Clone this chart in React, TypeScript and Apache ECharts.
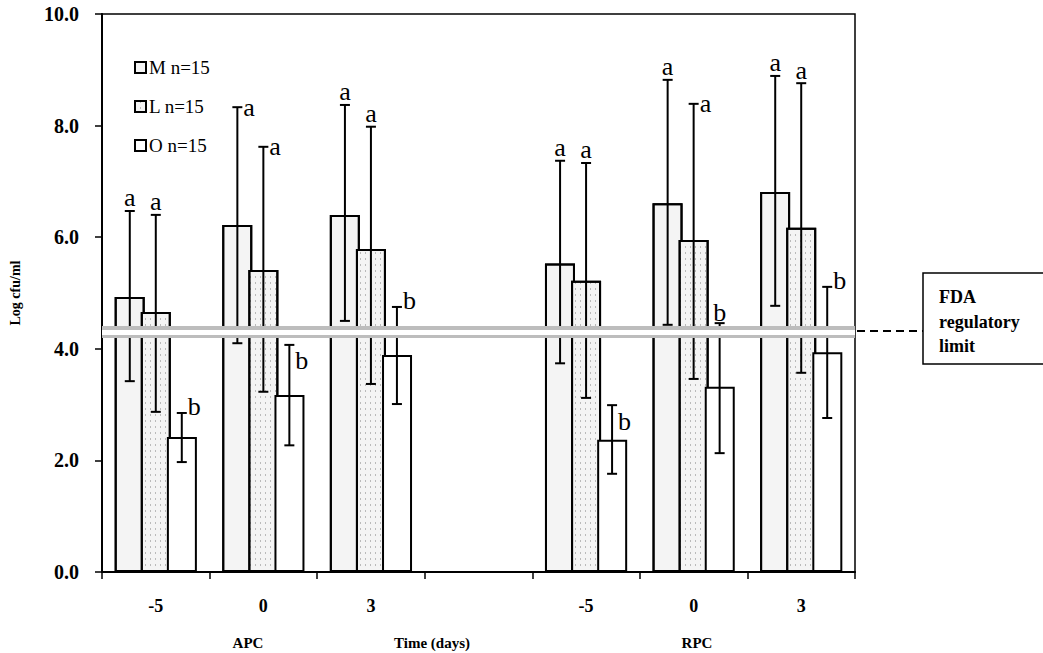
import React, { useEffect, useRef } from "react";
import * as echarts from "echarts";

const categories = ["-5", "0", "3", "", "-5", "0", "3"];
const groupLabels = ["APC", "Time (days)", "RPC"];
const seriesNames = ["M n=15", "L n=15", "O n=15"];

const meanM = [4.93, 6.22, 6.4, null, 5.53, 6.61, 6.81];
const meanL = [4.66, 5.41, 5.79, null, 5.22, 5.95, 6.17];
const meanO = [2.42, 3.17, 3.89, null, 2.37, 3.32, 3.94];

const hiM = [6.47, 8.33, 8.37, null, 7.37, 8.82, 8.89];
const loM = [3.42, 4.1, 4.5, null, 3.74, 4.43, 4.77];
const hiL = [6.4, 7.62, 7.98, null, 7.33, 8.39, 8.76];
const loL = [2.87, 3.23, 3.37, null, 3.12, 3.46, 3.57];
const hiO = [2.85, 4.07, 4.75, null, 2.99, 4.46, 5.11];
const loO = [1.97, 2.27, 3.01, null, 1.76, 2.13, 2.76];

const lettersM = ["a", "a", "a", "", "a", "a", "a"];
const lettersL = ["a", "a", "a", "", "a", "a", "a"];
const lettersO = ["b", "b", "b", "", "b", "b", "b"];
const posM = ["top", "right", "top", "", "top", "top", "top"];
const posL = ["top", "right", "top", "", "top", "right", "top"];
const posO = ["right", "rightLow", "right", "", "rightLow", "top", "right"];

const fdaLimit = 4.3;
const yTicks = { min: 0, max: 10, interval: 2 };

const SERIF = "'Liberation Serif', 'DejaVu Serif', serif";

function errSeries(
  lo: (number | null)[],
  hi: (number | null)[],
  letters: string[],
  pos: string[],
  offset: number,
  extra: any = {}
) {
  const data: any[] = [];
  categories.forEach((_, i) => {
    if (hi[i] != null && lo[i] != null) data.push([i, lo[i], hi[i]]);
  });
  return {
    type: "custom",
    silent: true,
    data,
    z: 3,
    renderItem: (params: any, api: any) => {
      const i = api.value(0);
      const top = api.coord([i, api.value(2)]);
      const bot = api.coord([i, api.value(1)]);
      const x = top[0] + offset;
      const cap = 5;
      const letter = letters[i];
      const p = pos[i];
      const isB = letter === "b";
      let tx = x;
      let ty = top[1];
      let align = "center";
      if (p === "right") {
        tx = x + 6;
        align = "left";
        ty = top[1] + (isB ? -6 : 0);
      } else if (p === "rightLow") {
        tx = x + 6;
        align = "left";
        ty = top[1] + 16;
      } else {
        ty = top[1] - (isB ? 11 : 13);
      }
      const st = { stroke: "#000", lineWidth: 2 };
      return {
        type: "group",
        children: [
          { type: "line", shape: { x1: x, y1: top[1], x2: x, y2: bot[1] }, style: st },
          { type: "line", shape: { x1: x - cap, y1: top[1], x2: x + cap, y2: top[1] }, style: st },
          { type: "line", shape: { x1: x - cap, y1: bot[1], x2: x + cap, y2: bot[1] }, style: st },
          {
            type: "text",
            style: {
              x: tx,
              y: ty,
              text: letter,
              align,
              verticalAlign: "middle",
              fontFamily: SERIF,
              fontSize: 26,
              fill: "#000",
            },
          },
        ],
      };
    },
    ...extra,
  };
}

export default function App() {
  const ref = useRef<HTMLDivElement>(null);
  useEffect(() => {
    if (!ref.current) return;
    const chart = echarts.init(ref.current, null, { renderer: "svg" });
    const barBase = {
      type: "bar",
      barWidth: 30,
      barGap: "-13%",
    };
    const boxText = (text: string, y: number) => ({
      type: "text",
      style: {
        x: 939,
        y,
        text,
        verticalAlign: "middle",
        fontFamily: SERIF,
        fontSize: 18,
        fontWeight: "bold",
        fill: "#000",
      },
    });
    const option: any = {
      animation: false,
      backgroundColor: "#fff",
      textStyle: { fontFamily: SERIF },
      grid: {
        left: 100,
        right: 188,
        top: 14,
        bottom: 81,
        show: true,
        borderColor: "#000",
        borderWidth: 1.5,
      },
      legend: {
        orient: "vertical",
        left: 129,
        top: 53,
        itemGap: 20,
        itemWidth: 11,
        itemHeight: 11,
        icon: "rect",
        textStyle: { fontFamily: SERIF, fontSize: 19, color: "#000", padding: [0, 0, 0, -2] },
        data: seriesNames,
      },
      xAxis: {
        type: "category",
        data: categories,
        axisLine: { lineStyle: { color: "#000", width: 2 } },
        axisTick: { show: true, length: 7, lineStyle: { color: "#000", width: 1.5 } },
        axisLabel: {
          fontFamily: SERIF,
          fontSize: 18,
          fontWeight: "bold",
          color: "#000",
          margin: 25,
        },
      },
      yAxis: {
        type: "value",
        min: yTicks.min,
        max: yTicks.max,
        interval: yTicks.interval,
        name: "Log cfu/ml",
        nameLocation: "middle",
        nameGap: 80,
        nameTextStyle: { fontFamily: SERIF, fontSize: 14, fontWeight: "bold", color: "#000" },
        axisLine: { show: true, lineStyle: { color: "#000", width: 2 } },
        axisTick: { show: true, length: 7, lineStyle: { color: "#000", width: 1.5 } },
        splitLine: { show: false },
        axisLabel: {
          fontFamily: SERIF,
          fontSize: 20,
          fontWeight: "bold",
          color: "#000",
          margin: 23,
          formatter: (v: number) => v.toFixed(1),
        },
      },
      series: [
        {
          ...barBase,
          name: seriesNames[0],
          data: meanM,
          itemStyle: {
            color: "#f4f4f4",
            borderColor: "#000",
            borderWidth: 2,
            decal: {
              symbol: "circle",
              symbolSize: 0.5,
              color: "rgba(0,0,0,0.4)",
              dashArrayX: [2, 6],
              dashArrayY: [3, 7],
              rotation: 0.4,
            },
          },
        },
        {
          ...barBase,
          name: seriesNames[1],
          data: meanL,
          itemStyle: {
            color: "#f4f4f4",
            borderColor: "#000",
            borderWidth: 2,
            decal: {
              symbol: "rect",
              symbolSize: 0.7,
              color: "rgba(0,0,0,0.45)",
              dashArrayX: [1, 4],
              dashArrayY: [2, 4],
              rotation: 0,
            },
          },
        },
        {
          ...barBase,
          name: seriesNames[2],
          data: meanO,
          itemStyle: { color: "#fff", borderColor: "#000", borderWidth: 2 },
        },
        errSeries(loM, hiM, lettersM, posM, -26),
        errSeries(loL, hiL, lettersL, posL, 0),
        errSeries(loO, hiO, lettersO, posO, 26, {
          markLine: {
            silent: true,
            symbol: "none",
            label: { show: false },
            z: 10,
            data: [
              { yAxis: fdaLimit, lineStyle: { color: "#bdbdbd", width: 12, type: "solid" } },
              { yAxis: fdaLimit, lineStyle: { color: "#ffffff", width: 5, type: "solid" } },
            ],
          },
        }),
      ],
      graphic: [
        {
          type: "line",
          shape: { x1: 857, y1: 331, x2: 923, y2: 331 },
          style: { stroke: "#000", lineWidth: 2, lineDash: [8, 5] },
        },
        {
          type: "rect",
          shape: { x: 923, y: 273, width: 140, height: 91 },
          style: { fill: "#fff", stroke: "#000", lineWidth: 1.5 },
        },
        boxText("FDA", 297),
        boxText("regulatory", 322),
        boxText("limit", 346),
        ...groupLabels.map((t, k) => ({
          type: "text",
          style: {
            x: [248, 432, 697][k],
            y: 643,
            text: t,
            align: "center",
            verticalAlign: "middle",
            fontFamily: SERIF,
            fontSize: 15,
            fontWeight: "bold",
            fill: "#000",
          },
        })),
      ],
    };
    chart.setOption(option);
    return () => chart.dispose();
  }, []);
  return (
    <div
      ref={ref}
      style={{ position: "fixed", left: 0, top: 0, width: 1043, height: 653 }}
    />
  );
}
